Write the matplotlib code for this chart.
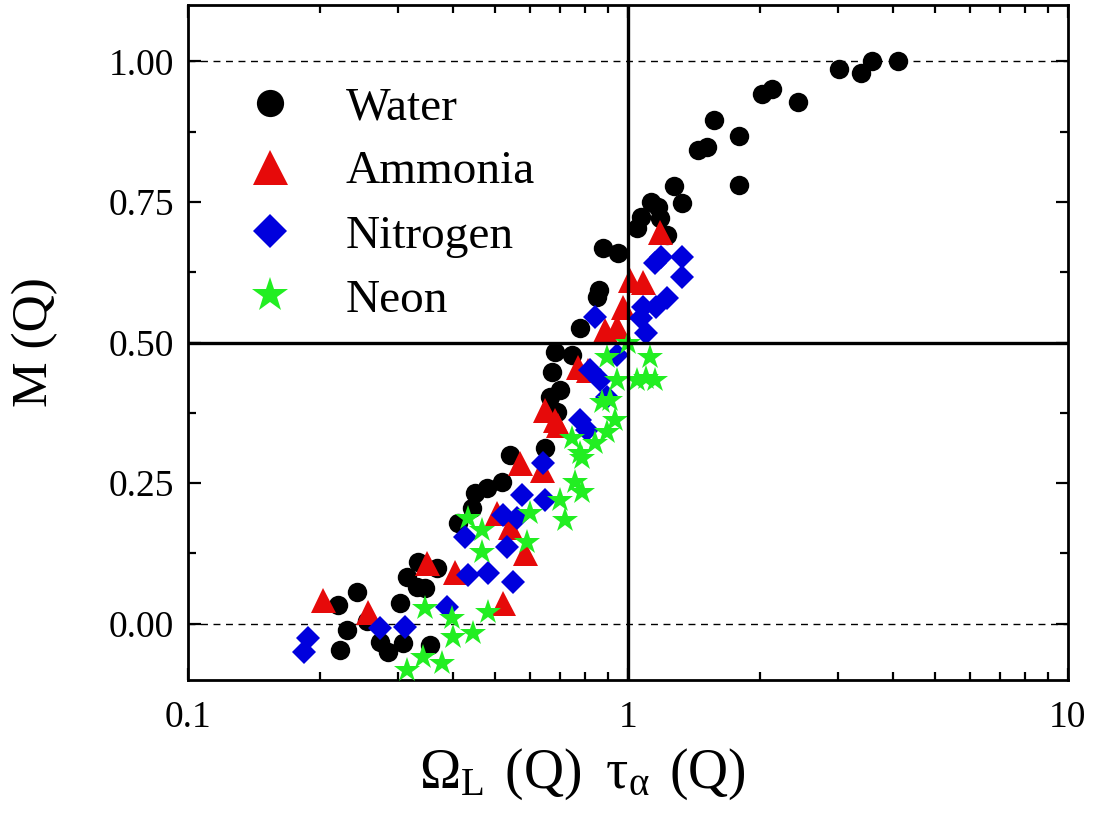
import numpy as np
import matplotlib
matplotlib.use("Agg")
import matplotlib.pyplot as plt
from matplotlib.ticker import FixedLocator, FuncFormatter, MultipleLocator

# M(Q) versus Omega_L(Q) * tau_alpha(Q) for four liquids
water_x = [4.11, 3.58, 3.38, 3.02, 2.43, 2.13, 2.02, 1.79, 1.79, 1.57, 1.51, 1.44,
           1.33, 1.27, 1.13, 1.17, 1.18, 1.07, 1.05, 1.23, 0.949, 0.877, 0.859, 0.850,
           0.778, 0.682, 0.746, 0.672, 0.701, 0.665, 0.690, 0.648, 0.539, 0.517, 0.478,
           0.449, 0.442, 0.411, 0.368, 0.346, 0.333, 0.315, 0.332, 0.303, 0.242, 0.219,
           0.255, 0.230, 0.221, 0.273, 0.285, 0.308, 0.355]
water_y = [1.000, 1.000, 0.979, 0.986, 0.927, 0.950, 0.941, 0.867, 0.780, 0.895, 0.847, 0.842,
           0.748, 0.778, 0.750, 0.741, 0.721, 0.723, 0.703, 0.691, 0.659, 0.668, 0.593, 0.581,
           0.526, 0.483, 0.478, 0.448, 0.416, 0.403, 0.377, 0.313, 0.300, 0.252, 0.242,
           0.233, 0.206, 0.179, 0.099, 0.064, 0.110, 0.083, 0.066, 0.037, 0.057, 0.034,
           0.005, -0.011, -0.046, -0.032, -0.050, -0.034, -0.037]

ammonia_x = [0.203, 0.257, 0.349, 0.404, 0.520, 0.504, 0.539, 0.584, 0.568, 0.637, 0.648,
             0.682, 0.692, 0.770, 0.811, 0.887, 0.944, 0.974, 1.01, 1.08, 1.18]
ammonia_y = [0.043, 0.020, 0.108, 0.092, 0.037, 0.197, 0.172, 0.126, 0.286, 0.274, 0.380,
             0.362, 0.353, 0.456, 0.451, 0.522, 0.528, 0.563, 0.611, 0.607, 0.696]

nitrogen_x = [0.187, 0.184, 0.273, 0.311, 0.388, 0.426, 0.433, 0.481, 0.548, 0.520, 0.559,
              0.531, 0.574, 0.648, 0.641, 0.778, 0.807, 0.820, 0.864, 0.896, 0.944, 0.841,
              1.07, 1.08, 1.10, 1.16, 1.23, 1.15, 1.19, 1.33, 1.33]
nitrogen_y = [-0.025, -0.050, -0.007, -0.005, 0.030, 0.155, 0.087, 0.091, 0.075, 0.194, 0.188,
              0.137, 0.229, 0.220, 0.286, 0.362, 0.345, 0.451, 0.433, 0.403, 0.478, 0.545,
              0.544, 0.563, 0.517, 0.563, 0.579, 0.641, 0.652, 0.652, 0.616]

neon_x = [1.12, 0.896, 0.944, 1.05, 1.10, 1.15, 0.873, 0.910, 0.934, 0.896, 0.746, 0.841,
          0.778, 0.433, 0.466, 0.466, 0.590, 0.599, 0.701, 0.719, 0.758, 0.786, 0.786,
          0.346, 0.398, 0.400, 0.444, 0.481, 0.342, 0.378, 0.315, 1.00]
neon_y = [0.474, 0.474, 0.433, 0.433, 0.437, 0.433, 0.394, 0.398, 0.362, 0.341, 0.330, 0.321,
          0.304, 0.188, 0.167, 0.128, 0.146, 0.197, 0.220, 0.185, 0.252, 0.234, 0.295,
          0.028, 0.011, -0.023, -0.016, 0.020, -0.059, -0.069, -0.082, 0.500]

series_labels = ["Water", "Ammonia", "Nitrogen", "Neon"]
x_tick_values = [0.1, 1, 10]
y_tick_values = [0.00, 0.25, 0.50, 0.75, 1.00]

plt.rcParams["font.family"] = ["Liberation Serif", "DejaVu Serif"]
plt.rcParams["mathtext.fontset"] = "custom"
plt.rcParams["mathtext.rm"] = "Liberation Serif"
plt.rcParams["mathtext.it"] = "Liberation Serif"
plt.rcParams["mathtext.bf"] = "Liberation Serif:bold"

fig = plt.figure(figsize=(10.93, 8.13), dpi=100)
ax = fig.add_axes([0.172, 0.1636, 0.805, 0.8302])

# reference levels
ax.axhline(1.0, color="black", lw=1.0, ls=(0, (5, 4)), zorder=1)
ax.axhline(0.0, color="black", lw=1.0, ls=(0, (5, 4)), zorder=1)

ax.plot(water_x, water_y, ls="none", marker="o", ms=14, mfc="black", mec="black",
        mew=0, label=series_labels[0], zorder=2)
ax.plot(ammonia_x, ammonia_y, ls="none", marker="^", ms=18, mfc="#E60A0A", mec="#E60A0A",
        mew=0, label=series_labels[1], zorder=3)
ax.plot(nitrogen_x, nitrogen_y, ls="none", marker="D", ms=12.5, mfc="#0000DD", mec="#0000DD",
        mew=0, label=series_labels[2], zorder=4)
ax.plot(neon_x, neon_y, ls="none", marker="*", ms=19, mfc="#22EE22", mec="#22EE22",
        mew=0, label=series_labels[3], zorder=5)

# crossing guide lines drawn above the markers
ax.axvline(1.0, color="black", lw=2.4, zorder=6)
ax.axhline(0.5, color="black", lw=2.4, zorder=6)

ax.set_xscale("log")
ax.set_xlim(0.1, 10)
ax.set_ylim(-0.10, 1.10)
ax.xaxis.set_major_locator(FixedLocator(x_tick_values))
ax.xaxis.set_major_formatter(FuncFormatter(lambda v, p: f"{v:g}"))
ax.yaxis.set_major_locator(FixedLocator(y_tick_values))
ax.yaxis.set_minor_locator(MultipleLocator(0.125))
ax.yaxis.set_major_formatter(FuncFormatter(lambda v, p: f"{v:.2f}"))

ax.tick_params(which="both", direction="in", top=True, right=True, width=1.6,
               labelsize=27, colors="black")
ax.tick_params(which="major", length=9)
ax.tick_params(axis="x", which="major", pad=15)
ax.tick_params(axis="y", which="major", pad=10)
ax.tick_params(which="minor", length=5.5)
for s in ax.spines.values():
    s.set_linewidth(2.0)

ax.set_ylabel("M (Q)", fontsize=37, labelpad=36)
ax.set_xlabel(r"$\Omega_{L}\;\,(Q)\;\;\tau_{\alpha}\;\,(Q)$", fontsize=40)
ax.xaxis.set_label_coords(0.448, -0.098)

leg = ax.legend(loc="upper left", bbox_to_anchor=(0.04, 0.915), frameon=False,
                fontsize=34, markerscale=1.4, handlelength=1.0, handletextpad=1.1,
                labelspacing=0.45, borderpad=0.0, numpoints=1)

fig.savefig("out.png", dpi=100)
